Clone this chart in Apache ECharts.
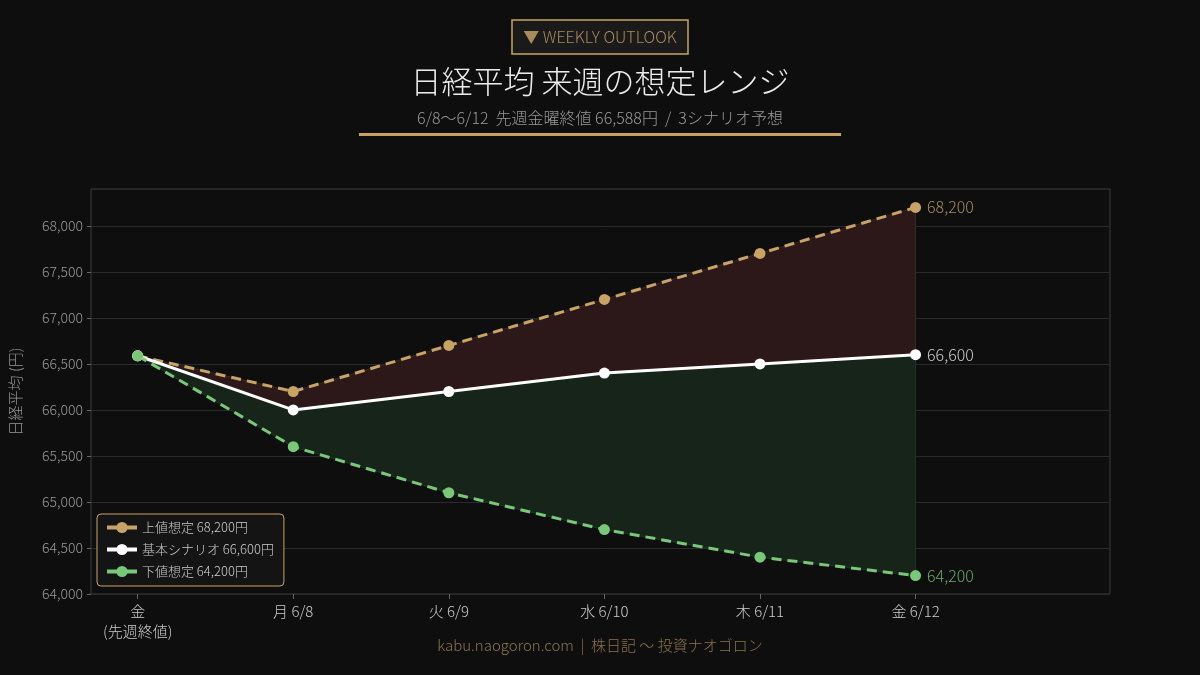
<!DOCTYPE html>
<html><head><meta charset="utf-8">
<script src="https://cdn.jsdelivr.net/npm/echarts@6/dist/echarts.min.js"></script>
<style>html,body{margin:0;padding:0;background:#0e0e0e;}#c{width:1200px;height:675px;}</style>
</head><body><div id="c"></div>
<script>
const categories = ['金\n(先週終値)', '月 6/8', '火 6/9', '水 6/10', '木 6/11', '金 6/12'];
const upperValues = [66588, 66200, 66700, 67200, 67700, 68200];
const baseValues  = [66588, 66000, 66200, 66400, 66500, 66600];
const lowerValues = [66588, 65600, 65100, 64700, 64400, 64200];
const seriesNames = ['上値想定 68,200円', '基本シナリオ 66,600円', '下値想定 64,200円'];
const yTickValues = [64000, 64500, 65000, 65500, 66000, 66500, 67000, 67500, 68000];
const yRange = { min: 64000, max: 68400, interval: 500 };

const LIGHT = "'Noto Sans CJK JP Light', 'Noto Sans CJK JP DemiLight', 'Noto Sans CJK JP', sans-serif";
const GOLD = '#c8a464', WHITE = '#ffffff', GREEN = '#78c878';
const pts = arr => arr.map((v, i) => [i, v]);
const fmt = v => v.toLocaleString('en-US');
const lastIdx = categories.length - 1;
const xIdx = categories.map((c, i) => i);

function lineSeries(name, vals, color, dashed, labelColor) {
  return {
    name, type: 'line', data: pts(vals), z: 5,
    symbol: 'circle', symbolSize: 11,
    itemStyle: { color },
    lineStyle: { color, width: 3, type: dashed ? [10, 6] : 'solid' },
    label: {
      show: true, position: 'right', distance: 6, color: labelColor, fontSize: 16, fontFamily: LIGHT,
      formatter: p => p.dataIndex === lastIdx ? fmt(p.value[1]) : ''
    }
  };
}

function bandSeries(topVals, botVals, fill, edge) {
  return {
    type: 'custom', z: 1, silent: true, data: [0],
    renderItem: (params, api) => {
      const poly = [];
      topVals.forEach((v, i) => poly.push(api.coord([i, v])));
      for (let i = botVals.length - 1; i >= 0; i--) poly.push(api.coord([i, botVals[i]]));
      return { type: 'polygon', shape: { points: poly }, style: { fill: fill, stroke: edge, lineWidth: 1 } };
    }
  };
}

const chart = echarts.init(document.getElementById('c'));
chart.setOption({
  backgroundColor: '#0e0e0e',
  animation: false,
  textStyle: { fontFamily: LIGHT },
  grid: { left: 90, right: 90, top: 189, bottom: 81, show: true, borderColor: '#3c3c3c', borderWidth: 1, backgroundColor: 'transparent' },
  xAxis: {
    type: 'value', min: -0.3, max: 6.25,
    axisLine: { show: false, onZero: false },
    splitLine: { show: false },
    axisTick: { show: true, customValues: xIdx, length: 5, lineStyle: { color: '#666' } },
    axisLabel: { customValues: xIdx, color: '#cccccc', fontSize: 15, margin: 7, lineHeight: 20, fontFamily: LIGHT,
      formatter: v => categories[Math.round(v)] }
  },
  yAxis: {
    type: 'value', min: yRange.min, max: yRange.max, interval: yRange.interval,
    name: '日経平均 (円)', nameLocation: 'middle', nameGap: 68, nameRotate: 90,
    nameTextStyle: { color: '#999', fontSize: 15, fontFamily: LIGHT },
    axisLine: { show: false, onZero: false },
    axisTick: { show: true, customValues: yTickValues, length: 4, lineStyle: { color: '#666' } },
    axisLabel: { customValues: yTickValues, color: '#999', fontSize: 14, margin: 8, fontFamily: LIGHT, formatter: v => fmt(v) },
    splitLine: { lineStyle: { color: '#2a2a2a' } }
  },
  legend: {
    orient: 'vertical', left: 97, top: 514, padding: [7, 10, 8, 8], itemGap: 9,
    borderColor: GOLD, borderWidth: 1, borderRadius: 4, backgroundColor: '#141414',
    itemWidth: 30, itemHeight: 14,
    lineStyle: { type: 'solid', width: 4 },
    textStyle: { color: '#cccccc', fontSize: 13, fontFamily: LIGHT },
    data: seriesNames
  },
  series: [
    bandSeries(baseValues, lowerValues, '#16241a', '#223426'),
    bandSeries(upperValues, baseValues, '#2c1818', '#3c2626'),
    lineSeries(seriesNames[0], upperValues, GOLD, true, '#a88b5a'),
    lineSeries(seriesNames[1], baseValues, WHITE, false, '#cccccc'),
    lineSeries(seriesNames[2], lowerValues, GREEN, true, '#6aa86a')
  ],
  graphic: [
    { type: 'rect', shape: { x: 512, y: 20, width: 176, height: 34 }, style: { fill: '#1a1a1a', stroke: GOLD, lineWidth: 1.5 } },
    { type: 'text', x: 600, y: 37, style: { text: '▼ WEEKLY OUTLOOK', fill: '#a88b5a', font: `16px ${LIGHT}`, align: 'center', verticalAlign: 'middle' } },
    { type: 'text', x: 600, y: 81, style: { text: '日経平均 来週の想定レンジ', fill: '#ececec', font: `31px ${LIGHT}`, align: 'center', verticalAlign: 'middle' } },
    { type: 'text', x: 600, y: 118, style: { text: '6/8〜6/12  先週金曜終値 66,588円  /  3シナリオ予想', fill: '#999999', font: `16px ${LIGHT}`, align: 'center', verticalAlign: 'middle' } },
    { type: 'rect', shape: { x: 359, y: 133, width: 482, height: 3 }, style: { fill: GOLD } },
    { type: 'text', x: 600, y: 645, style: { text: 'kabu.naogoron.com  |  株日記 〜 投資ナオゴロン', fill: '#8a7448', font: `15px ${LIGHT}`, align: 'center', verticalAlign: 'middle' } }
  ]
});
</script></body></html>
